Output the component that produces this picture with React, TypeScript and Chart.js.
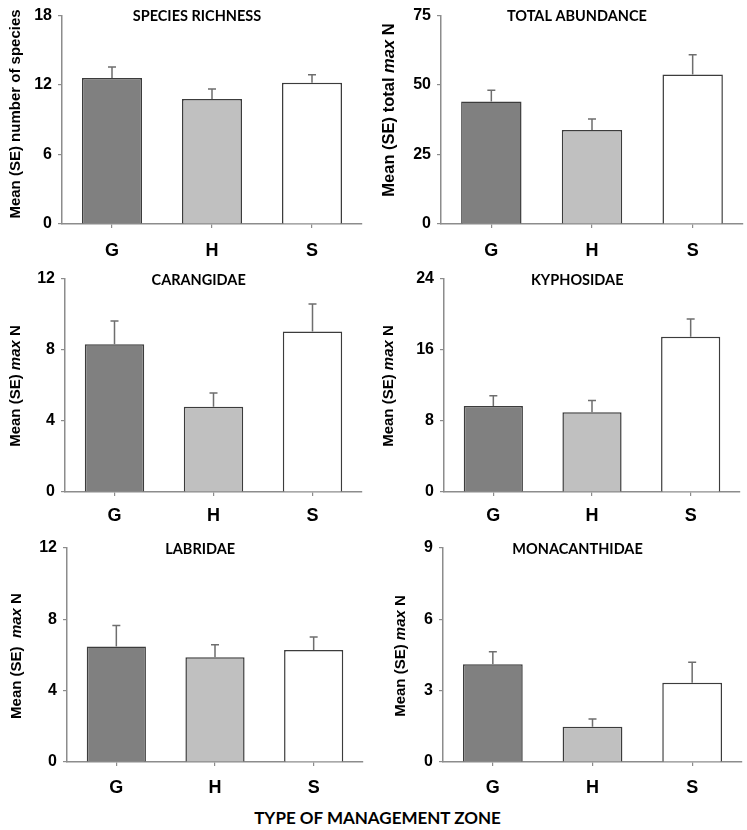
import React, { useEffect, useRef } from "react";
import { Chart, registerables } from "chart.js";

Chart.register(...registerables);

// ---------- data ----------
const categories = ["G", "H", "S"];
const barColors = ["#808080", "#c0c0c0", "#ffffff"];

const richnessMean = [12.6, 10.8, 12.2];
const richnessSE = [0.95, 0.85, 0.7];
const abundanceMean = [44.1, 33.8, 53.8];
const abundanceSE = [4.0, 4.0, 7.1];
const carangidaeMean = [8.33, 4.8, 9.04];
const carangidaeSE = [1.3, 0.78, 1.55];
const kyphosidaeMean = [9.7, 9.0, 17.5];
const kyphosidaeSE = [1.15, 1.3, 2.0];
const labridaeMean = [6.47, 5.87, 6.28];
const labridaeSE = [1.18, 0.7, 0.73];
const monacanthidaeMean = [4.11, 1.48, 3.33];
const monacanthidaeSE = [0.53, 0.33, 0.86];

const panelTitles = [
  "SPECIES RICHNESS",
  "TOTAL ABUNDANCE",
  "CARANGIDAE",
  "KYPHOSIDAE",
  "LABRIDAE",
  "MONACANTHIDAE",
];
type Part = { text: string; italic?: boolean };
const yTitles: Part[][] = [
  [{ text: "Mean (SE) number of species" }],
  [{ text: "Mean (SE) total " }, { text: "max", italic: true }, { text: " N" }],
  [{ text: "Mean (SE) " }, { text: "max", italic: true }, { text: " N" }],
  [{ text: "Mean (SE) " }, { text: "max", italic: true }, { text: " N" }],
  [{ text: "Mean (SE)  " }, { text: "max", italic: true }, { text: " N" }],
  [{ text: "Mean (SE) " }, { text: "max", italic: true }, { text: " N" }],
];
const yMax = [18, 75, 12, 24, 12, 9];
const yStep = [6, 25, 4, 8, 4, 3];
const means = [richnessMean, abundanceMean, carangidaeMean, kyphosidaeMean, labridaeMean, monacanthidaeMean];
const errors = [richnessSE, abundanceSE, carangidaeSE, kyphosidaeSE, labridaeSE, monacanthidaeSE];
const xAxisTitle = "TYPE OF MANAGEMENT ZONE";

// ---------- layout (page pixels) ----------
// canvas box: cx, cy, cw, ch ; plot area: l, t, r, b ; y-title centre x/y and size
const layouts = [
  { cx: 0, cy: 0, cw: 370, ch: 262, l: 62, t: 12, r: 362, b: 224, yt: 15.5, yc: 114, ys: 15, xpad: 12 },
  { cx: 370, cy: 0, cw: 377, ch: 262, l: 441, t: 12, r: 743, b: 224, yt: 389, yc: 110, ys: 16.5, xpad: 12 },
  { cx: 0, cy: 262, cw: 370, ch: 268, l: 65, t: 279, r: 362, b: 492, yt: 16, yc: 386, ys: 15, xpad: 9 },
  { cx: 370, cy: 262, cw: 377, ch: 268, l: 444, t: 279, r: 740, b: 492, yt: 389, yc: 386, ys: 15, xpad: 9 },
  { cx: 0, cy: 530, cw: 370, ch: 270, l: 67, t: 548, r: 363, b: 762, yt: 17, yc: 656, ys: 15, xpad: 11 },
  { cx: 370, cy: 530, cw: 377, ch: 270, l: 443, t: 548, r: 742, b: 762, yt: 401, yc: 656, ys: 15, xpad: 11 },
];

const AXIS = "#8c8c8c";
const ARIAL = "'Liberation Sans', Arial, sans-serif";
const CALIBRI = "Lato, 'Open Sans', sans-serif";

function Panel({ idx }: { idx: number }) {
  const ref = useRef<HTMLCanvasElement | null>(null);
  const L = layouts[idx];
  useEffect(() => {
    if (!ref.current) return;
    const se = errors[idx];
    const decor = {
      id: "decor" + idx,
      afterDatasetsDraw(chart: any) {
        const ctx = chart.ctx;
        const meta = chart.getDatasetMeta(0);
        const ys = chart.scales.y;
        const data = chart.data.datasets[0].data as number[];
        ctx.save();
        ctx.strokeStyle = "#6e6e6e";
        ctx.lineWidth = 1.5;
        meta.data.forEach((bar: any, i: number) => {
          const yBar = ys.getPixelForValue(data[i]);
          const yTop = ys.getPixelForValue(data[i] + se[i]);
          ctx.beginPath();
          ctx.moveTo(bar.x, yBar);
          ctx.lineTo(bar.x, yTop);
          ctx.moveTo(bar.x - 4, yTop);
          ctx.lineTo(bar.x + 4, yTop);
          ctx.stroke();
        });
        ctx.restore();
      },
      afterDraw(chart: any) {
        const ctx = chart.ctx;
        const area = chart.chartArea;
        ctx.save();
        // panel title
        ctx.fillStyle = "#000";
        ctx.font = `bold 14.5px ${CALIBRI}`;
        ctx.textAlign = "center";
        ctx.textBaseline = "middle";
        ctx.fillText(panelTitles[idx], area.left + 0.45 * (area.right - area.left), area.top + 1);
        // y title (rotated, mixed italic)
        const parts = yTitles[idx];
        const fontFor = (p: Part) => `${p.italic ? "italic " : ""}bold ${L.ys}px ${ARIAL}`;
        let total = 0;
        parts.forEach((p) => {
          ctx.font = fontFor(p);
          total += ctx.measureText(p.text).width;
        });
        ctx.translate(L.yt - L.cx, L.yc - L.cy);
        ctx.rotate(-Math.PI / 2);
        ctx.textAlign = "left";
        let x = -total / 2;
        parts.forEach((p) => {
          ctx.font = fontFor(p);
          ctx.fillText(p.text, x, 0);
          x += ctx.measureText(p.text).width;
        });
        ctx.restore();
      },
    };

    const chart = new Chart(ref.current, {
      type: "bar",
      data: {
        labels: categories,
        datasets: [
          {
            data: means[idx],
            backgroundColor: barColors,
            borderColor: "#3c3c3c",
            borderWidth: 1.5,
            barPercentage: 0.6,
            categoryPercentage: 1,
          },
        ],
      },
      options: {
        responsive: false,
        animation: false,
        events: [],
        layout: {
          padding: { top: L.t - L.cy, right: L.cx + L.cw - L.r, left: 0, bottom: 0 },
        },
        plugins: {
          legend: { display: false },
          tooltip: { enabled: false },
          title: { display: false },
        },
        scales: {
          x: {
            type: "category",
            offset: true,
            grid: {
              display: true,
              drawOnChartArea: false,
              drawTicks: true,
              tickLength: 4,
              offset: false,
              color: AXIS,
              lineWidth: 1.2,
            },
            border: { display: true, color: AXIS, width: 1.5 },
            ticks: {
              color: "#000",
              font: { family: ARIAL, size: 18, weight: "bold" },
              padding: L.xpad,
              maxRotation: 0,
            },
            afterFit: (s: any) => {
              s.height = L.cy + L.ch - L.b;
            },
          },
          y: {
            min: 0,
            max: yMax[idx],
            grid: {
              display: true,
              drawOnChartArea: false,
              drawTicks: true,
              tickLength: 4,
              color: AXIS,
              lineWidth: 1.2,
            },
            border: { display: true, color: AXIS, width: 1.5 },
            ticks: {
              stepSize: yStep[idx],
              color: "#000",
              font: { family: ARIAL, size: 16, weight: "bold" },
              padding: 6,
            },
            afterFit: (s: any) => {
              s.width = L.l - L.cx;
            },
          },
        },
      } as any,
      plugins: [decor],
    });
    return () => chart.destroy();
  }, [idx]);

  return (
    <canvas
      ref={ref}
      width={L.cw}
      height={L.ch}
      style={{ position: "absolute", left: L.cx, top: L.cy, width: L.cw, height: L.ch }}
    />
  );
}

export default function App() {
  return (
    <div
      style={{
        position: "absolute",
        left: 0,
        top: 0,
        width: 747,
        height: 830,
        background: "#fff",
      }}
    >
      {layouts.map((_, i) => (
        <Panel key={i} idx={i} />
      ))}
      <div
        style={{
          position: "absolute",
          left: 4,
          top: 806,
          width: 747,
          textAlign: "center",
          fontFamily: CALIBRI,
          fontWeight: "bold",
          fontSize: 17,
          color: "#000",
          lineHeight: "24px",
        }}
      >
        {xAxisTitle}
      </div>
    </div>
  );
}
